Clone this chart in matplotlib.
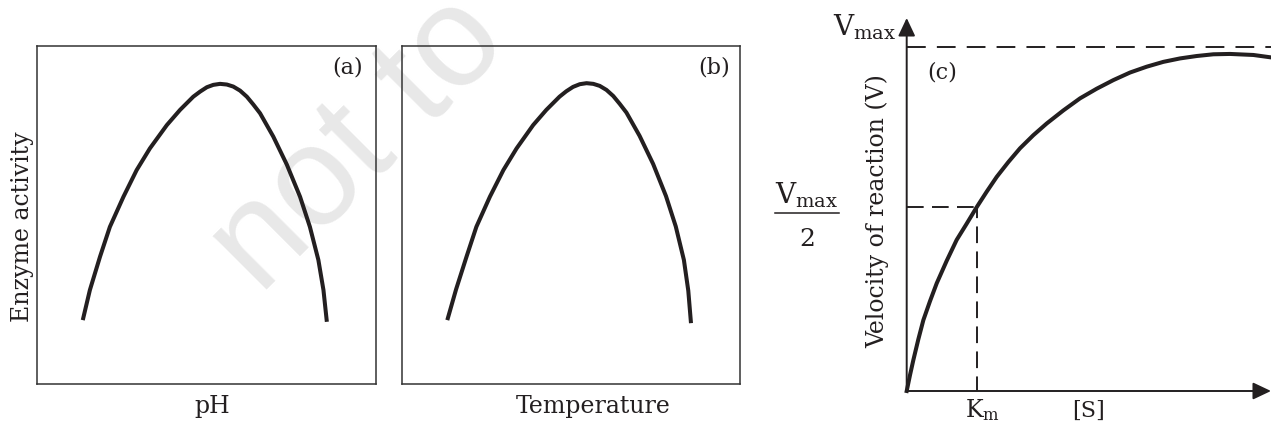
import matplotlib
matplotlib.use('Agg')
import matplotlib.pyplot as plt
from matplotlib.lines import Line2D

plt.rcParams['font.family'] = ['DejaVu Serif']
plt.rcParams['mathtext.fontset'] = 'dejavuserif'
plt.rcParams['lines.scale_dashes'] = False

INK = '#231f20'

# (a) enzyme activity vs pH (fractions of the box)
ph_x = [0.135, 0.156, 0.186, 0.215, 0.255, 0.294, 0.333, 0.383, 0.422, 0.461,
        0.481, 0.501, 0.520, 0.540, 0.560, 0.579, 0.599, 0.619, 0.638, 0.658,
        0.697, 0.737, 0.776, 0.805, 0.830, 0.845, 0.855]
ph_activity = [0.189, 0.278, 0.377, 0.465, 0.554, 0.633, 0.697, 0.766, 0.811,
               0.850, 0.865, 0.878, 0.885, 0.888, 0.886, 0.880, 0.868, 0.850,
               0.827, 0.801, 0.732, 0.649, 0.554, 0.465, 0.367, 0.278, 0.184]

# (b) enzyme activity vs temperature
temp_x = [0.134, 0.160, 0.191, 0.220, 0.260, 0.300, 0.339, 0.388, 0.427, 0.466,
          0.486, 0.506, 0.526, 0.546, 0.566, 0.585, 0.605, 0.625, 0.644, 0.664,
          0.703, 0.743, 0.781, 0.810, 0.834, 0.847, 0.855]
temp_activity = [0.189, 0.280, 0.377, 0.465, 0.554, 0.633, 0.697, 0.766, 0.811,
                 0.850, 0.866, 0.879, 0.887, 0.890, 0.888, 0.882, 0.870, 0.852,
                 0.829, 0.803, 0.734, 0.651, 0.556, 0.466, 0.367, 0.276, 0.180]

# (c) velocity vs substrate concentration (S in units of Km, V in units of Vmax)
substrate = [0.0, 0.048, 0.095, 0.166, 0.238, 0.333, 0.429, 0.571, 0.714, 0.857,
             1.0, 1.143, 1.286, 1.452, 1.619, 1.809, 2.0, 2.238, 2.476, 2.714,
             2.952, 3.190, 3.429, 3.666, 3.905, 4.143, 4.381, 4.619, 4.952, 5.204]
velocity = [0.0, 0.047, 0.090, 0.150, 0.206, 0.261, 0.313, 0.378, 0.439, 0.486,
            0.534, 0.579, 0.622, 0.665, 0.705, 0.743, 0.777, 0.815, 0.850, 0.878,
            0.903, 0.925, 0.942, 0.956, 0.966, 0.973, 0.978, 0.979, 0.976, 0.969]
KM = 1.0
VMAX = 1.0
VHALF = 0.534

W, H = 1271, 424


def fx(x):
    return x / W


def fy(y):
    return 1 - y / H


fig = plt.figure(figsize=(W / 100, H / 100), dpi=100)

# watermark behind everything
fig.text(fx(260), fy(296), 'not to', family='Liberation Sans', fontsize=102,
         color='#e8e8e8', rotation=45, rotation_mode='anchor',
         ha='left', va='baseline', zorder=-1)

# boxes (a) and (b)
ax_a = fig.add_axes([fx(37), fy(384), (376 - 37) / W, (384 - 46) / H])
ax_b = fig.add_axes([fx(402), fy(384), (740 - 402) / W, (384 - 46) / H])
for ax, xs, ys in [(ax_a, ph_x, ph_activity), (ax_b, temp_x, temp_activity)]:
    ax.plot(xs, ys, color=INK, lw=2.9, solid_capstyle='butt',
            solid_joinstyle='round')
    ax.set_xlim(0, 1)
    ax.set_ylim(0, 1)
    ax.set_xticks([])
    ax.set_yticks([])
    ax.patch.set_visible(False)
    for s in ax.spines.values():
        s.set_linewidth(1.1)
        s.set_color('#333333')

fig.text(fx(363), fy(67.5), '(a)', fontsize=16, color=INK, ha='right', va='center')
fig.text(fx(730), fy(67.5), '(b)', fontsize=16, color=INK, ha='right', va='center')
fig.text(fx(212), fy(413), 'pH', fontsize=17, color=INK, ha='center', va='baseline')
fig.text(fx(593), fy(413), 'Temperature', fontsize=17, color=INK,
         ha='center', va='baseline')
fig.text(fx(29), fy(227), 'Enzyme activity', fontsize=17, color=INK,
         rotation=90, rotation_mode='anchor', ha='center', va='baseline')

# panel (c) Michaelis-Menten curve
ax_c = fig.add_axes([fx(906.7), fy(391), (1271 - 906.7) / W, (391 - 18) / H])
ax_c.set_xlim(0, 5.204)
ax_c.set_ylim(0, 1.0834)
ax_c.axis('off')

ax_c.plot(substrate, velocity, color=INK, lw=2.9, solid_joinstyle='round',
          clip_on=False)
ax_c.plot([0, 5.204], [VMAX, VMAX], color=INK, lw=1.4, ls=(0, (13.5, 8)),
          clip_on=False)
ax_c.plot([0, KM], [VHALF, VHALF], color=INK, lw=1.4, ls=(0, (12, 6)))
ax_c.plot([KM, KM], [VHALF, 0], color=INK, lw=1.4, ls=(4, (12, 6)))

arrow = dict(arrowstyle='-|>,head_length=0.55,head_width=0.26',
             mutation_scale=20, lw=1.4, color=INK, shrinkA=0, shrinkB=0)
ax_c.annotate('', xy=(5.204, 0), xytext=(0, 0), arrowprops=arrow,
              annotation_clip=False)
ax_c.annotate('', xy=(0, 1.0834), xytext=(0, 0), arrowprops=arrow,
              annotation_clip=False)

fig.text(fx(896), fy(35), r'$\mathrm{V}_{\mathrm{max}}$', fontsize=20, color=INK,
         ha='right', va='baseline')
fig.text(fx(807), fy(204), r'$\mathrm{V}_{\mathrm{max}}$', fontsize=20, color=INK,
         ha='center', va='baseline')
fig.add_artist(Line2D([fx(775), fx(839)], [fy(213), fy(213)], color=INK, lw=1.1))
fig.text(fx(807), fy(246), '2', fontsize=18, color=INK, ha='center', va='baseline')
fig.text(fx(927), fy(72.5), '(c)', fontsize=16, color=INK, ha='left', va='center')
fig.text(fx(884), fy(211), 'Velocity of reaction (V)', fontsize=17, color=INK,
         rotation=90, rotation_mode='anchor', ha='center', va='baseline')
fig.text(fx(965), fy(417), r'$\mathrm{K}_{\mathrm{m}}$', fontsize=17, color=INK,
         ha='left', va='baseline')
fig.text(fx(1072), fy(417), '[S]', fontsize=16, color=INK, ha='left', va='baseline')

fig.savefig('out.png', dpi=100)
